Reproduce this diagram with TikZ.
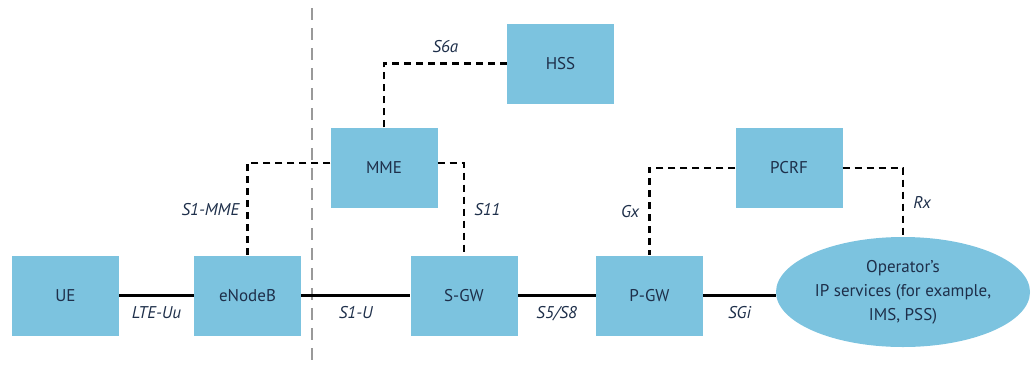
\documentclass[tikz,border=0pt]{standalone}
\usepackage{fontspec}
\setmainfont{PT Sans}
\usetikzlibrary{shapes.geometric}
\definecolor{boxblue}{HTML}{7CC3DF}
\definecolor{txt}{HTML}{1E2F4A}
\begin{document}
\begin{tikzpicture}[x=1pt,y=-1pt,
  box/.style={fill=boxblue,draw=none,minimum width=107pt,minimum height=80pt,inner sep=0pt,text=txt,font=\fontsize{17}{20}\selectfont},
  ell/.style={ellipse,fill=boxblue,draw=none,minimum width=254pt,minimum height=110pt,inner sep=0pt,text=txt,align=center,font=\fontsize{17}{24}\selectfont},
  lbl/.style={text=txt,font=\fontsize{17}{20}\selectfont\itshape,inner sep=1pt},
  sig/.style={black,line width=2.6pt,dash pattern=on 7pt off 5pt},
  usr/.style={black,line width=2.6pt},
  border/.style={gray!80,line width=1.3pt,dash pattern=on 12pt off 8pt}]
\useasboundingbox (0,0) rectangle (1035,367);
\node[box] (ue) at (65.5,295.5) {UE};
\node[box] (enb) at (247.5,295.5) {eNodeB};
\node[box] (sgw) at (464,295.5) {S-GW};
\node[box] (pgw) at (649.5,295.5) {P-GW};
\node[box] (mme) at (384,167.5) {MME};
\node[box] (hss) at (560.5,63.5) {HSS};
\node[box] (pcrf) at (789,168) {PCRF};
\node[ell] (ops) at (903,292) {Operator's\\IP services (for example,\\IMS, PSS)};
\coordinate (btop) at (312,8);
\coordinate (bbot) at (312,367);
\draw[border] (btop) -- (bbot);
\draw[usr] (ue) -- (enb) node[lbl,midway,below=9pt] {LTE-Uu};
\draw[usr] (enb) -- (sgw) node[lbl,midway,below=9pt] {S1-U};
\draw[usr] (sgw) -- (pgw) node[lbl,midway,below=9pt] {S5/S8};
\draw[usr] (pgw.east) -- (pgw.east -| ops.west) node[lbl,midway,below=9pt] {SGi};
\draw[sig] (mme.west |- 0,163) -| node[lbl,pos=0.75,left=6pt] {S1-MME} (enb.north);
\draw[sig] (mme.east |- 0,163) -| node[lbl,pos=0.75,right=8pt] {S11} (sgw.north);
\draw[sig] (mme.north) |- node[lbl,pos=0.75,above=8pt] {S6a} (hss.west);
\draw[sig] (pcrf.west) -| node[lbl,pos=0.75,left=8pt] {Gx} (pgw.north);
\draw[sig] (pcrf.east) -| node[lbl,pos=0.75,right=8pt] {Rx} (ops.north);
\end{tikzpicture}
\end{document}
